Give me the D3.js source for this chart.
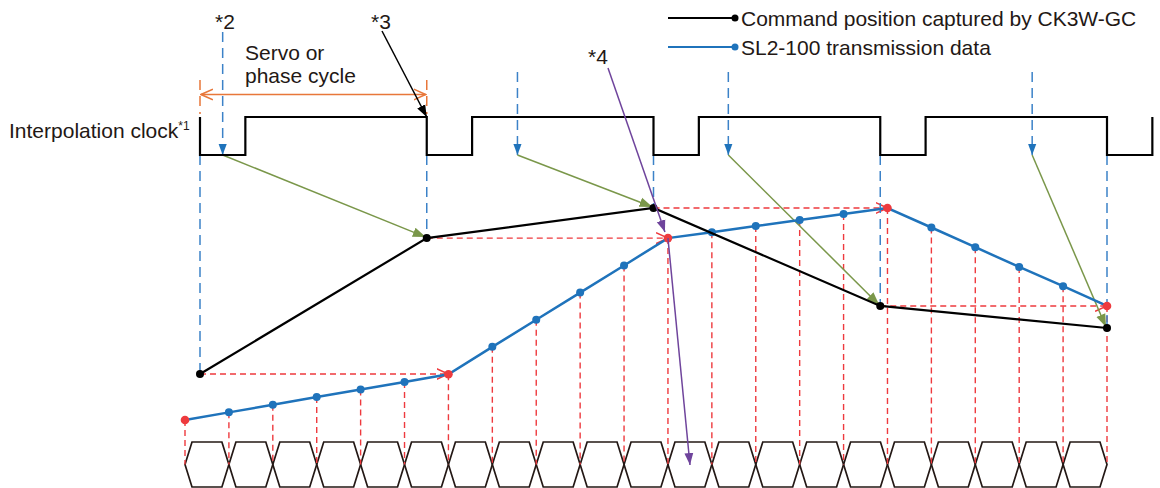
<!DOCTYPE html>
<html>
<head>
<meta charset="utf-8">
<script src="https://cdn.jsdelivr.net/npm/d3@7"></script>
<style>
  body { margin: 0; background: #fff; }
  text { font-family: "Liberation Sans", Arial, sans-serif; fill: #231815; }
</style>
</head>
<body>
<svg id="chart" width="1160" height="488"></svg>
<script>
// Falling edges of the interpolation clock (in clock cycles)
var cycles = [0, 1, 2, 3, 4];
// Command position captured by CK3W-GC at each falling edge
var cmdPos = [21.7, 85.8, 100, 53.8, 43.4];
// *2 capture timing of the command (in clock cycles)
var capturePhase = [0.10, 1.40, 2.33, 3.67];
// SL2-100 transmission data, one value per sample
var txPos = [0, 3.6, 7.2, 10.8, 14.4, 17.9, 21.6, 34.5, 47.3, 60.1, 72.9, 85.8,
             88.6, 91.5, 94.3, 97.2, 100, 90.8, 81.5, 72.2, 63.1, 53.8];
// samples where the new command is reached (red dots)
var txMarked = [0, 6, 11, 16, 21];
var clockLow = 0.2; // low part of the clock period

var svg = d3.select("svg"),
    width = +svg.attr("width"),
    height = +svg.attr("height");

// scales
var xCycle = d3.scaleLinear().domain([0, 4]).range([200, 1107]);
var xSample = d3.scaleLinear().domain([0, txPos.length - 1]).range([185, 1107]);
var y = d3.scaleLinear().domain([0, 100]).range([420, 208]);

var yHigh = 117, yLow = 155;
var hexTop = 442, hexBot = 487, hexMid = 464.5, hexSlant = 7;

var colors = {
  blue: "#1f73bb", blueDash: "#3c82c8", red: "#ee3a3e", orange: "#e8773a",
  green: "#7a974a", purple: "#6f449c", black: "#111"
};

// arrow markers
var defs = svg.append("defs");
function solidMarker(id, color, size) {
  defs.append("marker").attr("id", id)
      .attr("viewBox", "0 0 10 10").attr("refX", 10).attr("refY", 5)
      .attr("markerWidth", size).attr("markerHeight", size)
      .attr("markerUnits", "userSpaceOnUse").attr("orient", "auto")
    .append("path").attr("d", "M0,1.3L10,5L0,8.7Z").attr("fill", color);
}
function openMarker(id, color) {
  defs.append("marker").attr("id", id)
      .attr("viewBox", "0 0 12 12").attr("refX", 11).attr("refY", 6)
      .attr("markerWidth", 13).attr("markerHeight", 13)
      .attr("markerUnits", "userSpaceOnUse").attr("orient", "auto-start-reverse")
    .append("path").attr("d", "M0,1L11,6L0,11")
      .attr("fill", "none").attr("stroke", color).attr("stroke-width", 1.4);
}
solidMarker("arBlue", colors.blue, 11);
solidMarker("arGreen", colors.green, 13);
solidMarker("arBlack", "#000", 12);
solidMarker("arPurple", colors.purple, 12);
openMarker("arRed", colors.red);
openMarker("arOrange", colors.orange);

// Hexagon data bus (one cell between consecutive samples)
var cells = txPos.slice(1).map(function(d, i) { return i; });
svg.append("g").selectAll("path")
  .data(cells)
  .enter().append("path")
    .attr("d", function(i) {
      var a = xSample(i), b = xSample(i + 1);
      return "M" + a + "," + hexMid + "L" + (a + hexSlant) + "," + hexTop +
             "L" + (b - hexSlant) + "," + hexTop + "L" + b + "," + hexMid +
             "L" + (b - hexSlant) + "," + hexBot + "L" + (a + hexSlant) + "," + hexBot + "Z";
    })
    .attr("fill", "none").attr("stroke", "#231815").attr("stroke-width", 1.7);

// red dashed drops from each sample to the bus
svg.append("g").selectAll("line")
  .data(txPos)
  .enter().append("line")
    .attr("x1", function(d, i) { return xSample(i); })
    .attr("x2", function(d, i) { return xSample(i); })
    .attr("y1", function(d) { return y(d); })
    .attr("y2", hexMid)
    .attr("stroke", colors.red).attr("stroke-width", 1.4)
    .attr("stroke-dasharray", "6,4");

// red dashed horizontal arrows: command -> transmission
svg.append("g").selectAll("line")
  .data(cmdPos.slice(0, 4))
  .enter().append("line")
    .attr("x1", function(d, i) { return xCycle(cycles[i]); })
    .attr("y1", function(d) { return y(d); })
    .attr("x2", function(d, i) { return xSample(txMarked[i + 1]); })
    .attr("y2", function(d) { return y(d); })
    .attr("stroke", colors.red).attr("stroke-width", 1.4)
    .attr("stroke-dasharray", "6,4")
    .attr("marker-end", "url(#arRed)");

// blue dashed lines at the falling edges
svg.append("g").selectAll("line")
  .data(cmdPos)
  .enter().append("line")
    .attr("x1", function(d, i) { return xCycle(cycles[i]); })
    .attr("x2", function(d, i) { return xCycle(cycles[i]); })
    .attr("y1", yLow)
    .attr("y2", function(d) { return y(d); })
    .attr("stroke", colors.blueDash).attr("stroke-width", 1.5)
    .attr("stroke-dasharray", "10,6");

// *2 capture markers (blue dashed down arrows)
svg.append("g").selectAll("line")
  .data(capturePhase)
  .enter().append("line")
    .attr("x1", function(d) { return xCycle(d); })
    .attr("x2", function(d) { return xCycle(d); })
    .attr("y1", function(d, i) { return i == 0 ? 32 : 72; })
    .attr("y2", yLow)
    .attr("stroke", colors.blueDash).attr("stroke-width", 1.5)
    .attr("stroke-dasharray", "10,6")
    .attr("marker-end", "url(#arBlue)");

// green arrows: capture -> command point
svg.append("g").selectAll("line")
  .data(capturePhase)
  .enter().append("line")
    .attr("x1", function(d) { return xCycle(d); })
    .attr("y1", yLow)
    .attr("x2", function(d, i) { return xCycle(cycles[i + 1]) - 1; })
    .attr("y2", function(d, i) { return y(cmdPos[i + 1]) - 1; })
    .attr("stroke", colors.green).attr("stroke-width", 1.5)
    .attr("marker-end", "url(#arGreen)");

// Interpolation clock
var clk = [[xCycle(0), yHigh], [xCycle(0), yLow]];
cycles.forEach(function(c, k) {
  clk.push([xCycle(c + clockLow), yLow], [xCycle(c + clockLow), yHigh]);
  if (k < cycles.length - 1) clk.push([xCycle(c + 1), yHigh], [xCycle(c + 1), yLow]);
});
svg.append("path")
    .attr("d", d3.line()(clk))
    .attr("fill", "none").attr("stroke", "#000").attr("stroke-width", 2.2);

// SL2-100 transmission line
svg.append("path")
    .datum(txPos)
    .attr("d", d3.line().x(function(d, i) { return xSample(i); }).y(function(d) { return y(d); }))
    .attr("fill", "none").attr("stroke", colors.blue).attr("stroke-width", 2.5);

svg.append("g").selectAll("circle")
  .data(txPos)
  .enter().append("circle")
    .attr("cx", function(d, i) { return xSample(i); })
    .attr("cy", function(d) { return y(d); })
    .attr("r", function(d, i) { return txMarked.indexOf(i) >= 0 ? 4.3 : 4; })
    .attr("fill", function(d, i) { return txMarked.indexOf(i) >= 0 ? colors.red : colors.blue; });

// Command position line
svg.append("path")
    .datum(cmdPos)
    .attr("d", d3.line().x(function(d, i) { return xCycle(cycles[i]); }).y(function(d) { return y(d); }))
    .attr("fill", "none").attr("stroke", "#000").attr("stroke-width", 2.2);

svg.append("g").selectAll("circle")
  .data(cmdPos)
  .enter().append("circle")
    .attr("cx", function(d, i) { return xCycle(cycles[i]); })
    .attr("cy", function(d) { return y(d); })
    .attr("r", 4).attr("fill", "#000");

// Servo or phase cycle span
[0, 1].forEach(function(c) {
  svg.append("line")
      .attr("x1", xCycle(c)).attr("x2", xCycle(c))
      .attr("y1", 80).attr("y2", 114)
      .attr("stroke", colors.orange).attr("stroke-width", 1.5)
      .attr("stroke-dasharray", "10,6");
});
svg.append("line")
    .attr("x1", xCycle(0) + 1).attr("x2", xCycle(1) - 1)
    .attr("y1", 94.5).attr("y2", 94.5)
    .attr("stroke", colors.orange).attr("stroke-width", 1.5)
    .attr("marker-start", "url(#arOrange)")
    .attr("marker-end", "url(#arOrange)");

// *3 and *4 pointers
svg.append("line")
    .attr("x1", 382).attr("y1", 31).attr("x2", xCycle(1)).attr("y2", yHigh)
    .attr("stroke", "#000").attr("stroke-width", 1.5)
    .attr("marker-end", "url(#arBlack)");
svg.append("line")
    .attr("x1", 608).attr("y1", 68).attr("x2", xSample(11) - 3).attr("y2", y(txPos[11]) - 6)
    .attr("stroke", colors.purple).attr("stroke-width", 1.5)
    .attr("marker-end", "url(#arPurple)");
svg.append("line")
    .attr("x1", xSample(11)).attr("y1", y(txPos[11]))
    .attr("x2", 690).attr("y2", 465)
    .attr("stroke", colors.purple).attr("stroke-width", 1.5)
    .attr("marker-end", "url(#arPurple)");

// Labels
var fs = 21;
svg.append("text").attr("x", 215).attr("y", 29).attr("font-size", fs).text("*2");
svg.append("text").attr("x", 371).attr("y", 29).attr("font-size", fs).text("*3");
svg.append("text").attr("x", 588).attr("y", 64).attr("font-size", fs).text("*4");
svg.append("text").attr("x", 245).attr("y", 60).attr("font-size", fs).text("Servo or");
svg.append("text").attr("x", 245).attr("y", 83).attr("font-size", fs).text("phase cycle");
var clkLabel = svg.append("text").attr("x", 9).attr("y", 138).attr("font-size", fs);
clkLabel.append("tspan").text("Interpolation clock");
clkLabel.append("tspan").attr("font-size", 12).attr("dy", -8).text("*1");

// Legend
var legend = [
  { name: "Command position captured by CK3W-GC", color: "#000", y: 18 },
  { name: "SL2-100 transmission data", color: colors.blue, y: 47 }
];
var lg = svg.append("g").selectAll("g").data(legend).enter().append("g");
lg.append("line")
    .attr("x1", 668).attr("x2", 735)
    .attr("y1", function(d) { return d.y; }).attr("y2", function(d) { return d.y; })
    .attr("stroke", function(d) { return d.color; }).attr("stroke-width", 2);
lg.append("circle")
    .attr("cx", 735).attr("cy", function(d) { return d.y; }).attr("r", 3.5)
    .attr("fill", function(d) { return d.color; });
lg.append("text")
    .attr("x", 741).attr("y", function(d) { return d.y + 7.5; })
    .attr("font-size", fs)
    .text(function(d) { return d.name; });
</script>
</body>
</html>
